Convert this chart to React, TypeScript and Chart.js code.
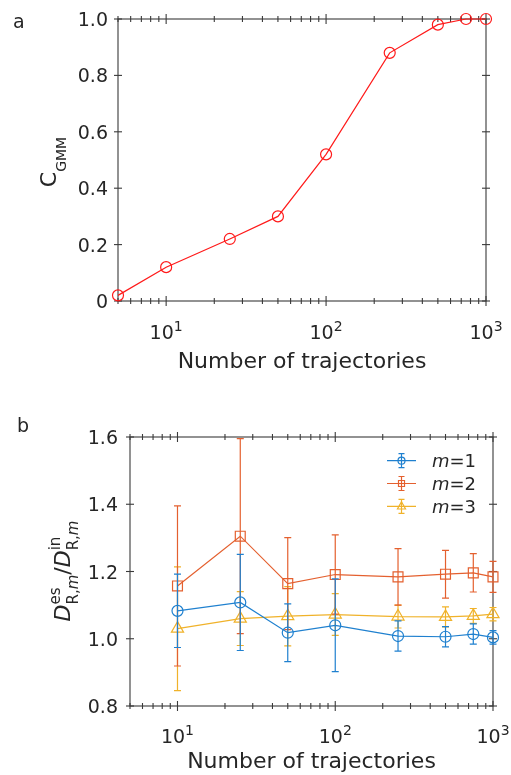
import { useEffect, useRef } from "react";
import { Chart, registerables } from "chart.js";

Chart.register(...registerables);

const FONT = '"DejaVu Sans", Verdana, sans-serif';
const INK = "#262626";
const AXIS = "#3a3a3a";

// ---- panel a: clustering accuracy vs. number of trajectories ----
const trajectoriesA = [5, 10, 25, 50, 100, 250, 500, 750, 1000];
const cGmm = [0.02, 0.12, 0.22, 0.3, 0.52, 0.88, 0.98, 1.0, 1.0];

// ---- panel b: estimated / input diffusion ratio for each state m ----
const trajectoriesB = [10, 25, 50, 100, 250, 500, 750, 1000];
const ratioM1 = [1.083, 1.108, 1.018, 1.04, 1.008, 1.006, 1.014, 1.004];
const errM1 = [0.109, 0.143, 0.086, 0.138, 0.045, 0.03, 0.03, 0.02];
const ratioM2 = [1.157, 1.305, 1.164, 1.191, 1.184, 1.192, 1.196, 1.184];
const errM2 = [0.238, 0.29, 0.137, 0.118, 0.084, 0.071, 0.057, 0.046];
const ratioM3 = [1.03, 1.06, 1.067, 1.072, 1.066, 1.065, 1.068, 1.073];
const errM3 = [0.184, 0.08, 0.088, 0.062, 0.034, 0.03, 0.022, 0.02];
const stateLabels = ["1", "2", "3"];

// ---- axes ----
const xRange = [5, 1000];
const xMajorTicks = [10, 100, 1000];
const xTickExponents = ["1", "2", "3"];
const yTicksA = [0, 0.2, 0.4, 0.6, 0.8, 1.0];
const yTickLabelsA = ["0", "0.2", "0.4", "0.6", "0.8", "1.0"];
const yTicksB = [0.8, 1.0, 1.2, 1.4, 1.6];
const yTickLabelsB = ["0.8", "1.0", "1.2", "1.4", "1.6"];
const xTitle = "Number of trajectories";

const RED = "#ff1a1a";
const BLUE = "#1f80cf";
const ORANGE = "#e4602f";
const YELLOW = "#f0b22a";

type Run = { t: string; size: number; dy?: number; italic?: boolean };
type Seg = Run | { stack: [Run[], Run[]] };

const fontOf = (r: Run) => `${r.italic ? "italic " : ""}${r.size}px ${FONT}`;

function runsWidth(ctx: CanvasRenderingContext2D, runs: Run[]) {
  let w = 0;
  for (const r of runs) {
    ctx.font = fontOf(r);
    w += ctx.measureText(r.t).width;
  }
  return w;
}

function segWidth(ctx: CanvasRenderingContext2D, s: Seg) {
  if ("stack" in s) return Math.max(runsWidth(ctx, s.stack[0]), runsWidth(ctx, s.stack[1]));
  return runsWidth(ctx, [s]);
}

function drawRuns(ctx: CanvasRenderingContext2D, runs: Run[], x: number) {
  for (const r of runs) {
    ctx.font = fontOf(r);
    ctx.fillText(r.t, x, r.dy || 0);
    x += ctx.measureText(r.t).width;
  }
  return x;
}

function drawRich(
  ctx: CanvasRenderingContext2D,
  segs: Seg[],
  x: number,
  y: number,
  align: "left" | "center" | "right",
  angle = 0
) {
  let total = 0;
  for (const s of segs) total += segWidth(ctx, s);
  ctx.save();
  ctx.translate(x, y);
  ctx.rotate(angle);
  ctx.fillStyle = INK;
  ctx.textAlign = "left";
  ctx.textBaseline = "alphabetic";
  let cx = align === "center" ? -total / 2 : align === "right" ? -total : 0;
  for (const s of segs) {
    if ("stack" in s) {
      drawRuns(ctx, s.stack[0], cx);
      drawRuns(ctx, s.stack[1], cx);
      cx += segWidth(ctx, s);
    } else {
      cx = drawRuns(ctx, [s], cx);
    }
  }
  ctx.restore();
}

type FrameCfg = {
  yTicks: number[];
  yLabels: string[];
  yLabelGap: number;
  xLabelBaseline: number;
  xTitleBaseline: number;
  yTitle: Seg[];
  yTitleX: number;
  yTitleY: number;
  letter: string;
  letterX: number;
  letterY: number;
};

function framePlugin(cfg: FrameCfg) {
  return {
    id: "frame",
    beforeDatasetsDraw(chart: any) {
      const { ctx, chartArea: a, scales } = chart;
      const xs = scales.x;
      const ys = scales.y;
      ctx.save();
      ctx.strokeStyle = AXIS;
      ctx.lineWidth = 1.1;
      ctx.strokeRect(a.left, a.top, a.right - a.left, a.bottom - a.top);

      const seg = (x1: number, y1: number, x2: number, y2: number) => {
        ctx.beginPath();
        ctx.moveTo(x1, y1);
        ctx.lineTo(x2, y2);
        ctx.stroke();
      };

      // log-axis major and minor ticks, top and bottom
      const lo = xs.min;
      const hi = xs.max;
      for (let e = Math.floor(Math.log10(lo)); e <= Math.ceil(Math.log10(hi)); e++) {
        for (let d = 1; d <= 9; d++) {
          const v = d * Math.pow(10, e);
          if (v < lo * 0.999 || v > hi * 1.001) continue;
          const px = xs.getPixelForValue(v);
          const len = d === 1 ? 5 : 3;
          seg(px, a.bottom - len, px, a.bottom + len);
          seg(px, a.top - len, px, a.top + len);
        }
      }
      // y ticks, left and right
      for (const v of cfg.yTicks) {
        const py = ys.getPixelForValue(v);
        seg(a.left - 4, py, a.left + 4, py);
        seg(a.right - 4, py, a.right + 4, py);
      }
      ctx.restore();

      // tick labels
      cfg.yTicks.forEach((v, i) => {
        const py = ys.getPixelForValue(v);
        drawRich(ctx, [{ t: cfg.yLabels[i], size: 19 }], a.left - cfg.yLabelGap, py + 7, "right");
      });
      xMajorTicks.forEach((v, i) => {
        const px = xs.getPixelForValue(v);
        drawRich(
          ctx,
          [
            { t: "10", size: 19 },
            { t: xTickExponents[i], size: 14, dy: -8 },
          ],
          px,
          a.bottom + cfg.xLabelBaseline,
          "center"
        );
      });

      // axis titles and panel letter
      drawRich(ctx, [{ t: xTitle, size: 22 }], (a.left + a.right) / 2, cfg.xTitleBaseline, "center");
      drawRich(ctx, cfg.yTitle, cfg.yTitleX, cfg.yTitleY, "center", -Math.PI / 2);
      drawRich(ctx, [{ t: cfg.letter, size: 19 }], cfg.letterX, cfg.letterY, "left");
    },
  };
}

function drawMarker(ctx: CanvasRenderingContext2D, style: string, x: number, y: number, r: number) {
  ctx.beginPath();
  if (style === "circle") {
    ctx.arc(x, y, r, 0, Math.PI * 2);
  } else if (style === "rect") {
    ctx.rect(x - r, y - r, 2 * r, 2 * r);
  } else {
    ctx.moveTo(x, y - r);
    ctx.lineTo(x + r * 0.9, y + r * 0.6);
    ctx.lineTo(x - r * 0.9, y + r * 0.6);
    ctx.closePath();
  }
  ctx.stroke();
}

// vertical error bars with caps, drawn right after each series
const errorBarPlugin = {
  id: "errorBars",
  afterDatasetDraw(chart: any, args: any) {
    const ds = chart.data.datasets[args.index];
    if (!ds.errors) return;
    const { ctx, scales } = chart;
    const ys = scales.y;
    ctx.save();
    ctx.strokeStyle = ds.borderColor;
    ctx.lineWidth = 1.2;
    args.meta.data.forEach((pt: any, i: number) => {
      const v = ds.data[i].y;
      const e = ds.errors[i];
      const y1 = ys.getPixelForValue(v - e);
      const y2 = ys.getPixelForValue(v + e);
      ctx.beginPath();
      ctx.moveTo(pt.x, y1);
      ctx.lineTo(pt.x, y2);
      ctx.moveTo(pt.x - 3.5, y1);
      ctx.lineTo(pt.x + 3.5, y1);
      ctx.moveTo(pt.x - 3.5, y2);
      ctx.lineTo(pt.x + 3.5, y2);
      ctx.stroke();
    });
    ctx.restore();
  },
};

const legendSeries = [
  { color: BLUE, style: "circle" },
  { color: ORANGE, style: "rect" },
  { color: YELLOW, style: "triangle" },
];

const legendPlugin = {
  id: "stateLegend",
  afterDraw(chart: any) {
    const { ctx } = chart;
    const rows = [75.7, 98.5, 121.3];
    legendSeries.forEach((s, i) => {
      const y = rows[i];
      ctx.save();
      ctx.strokeStyle = s.color;
      ctx.lineWidth = 1.2;
      ctx.beginPath();
      ctx.moveTo(387, y);
      ctx.lineTo(416, y);
      ctx.moveTo(401.5, y - 7);
      ctx.lineTo(401.5, y + 7);
      ctx.moveTo(398.5, y - 7);
      ctx.lineTo(404.5, y - 7);
      ctx.moveTo(398.5, y + 7);
      ctx.lineTo(404.5, y + 7);
      ctx.stroke();
      drawMarker(ctx, s.style, 401.5, y, s.style === "rect" ? 3 : s.style === "triangle" ? 4.5 : 3.5);
      ctx.restore();
      drawRich(
        ctx,
        [
          { t: "m", size: 18, italic: true },
          { t: "=" + stateLabels[i], size: 18 },
        ],
        432,
        y + 6.5,
        "left"
      );
    });
  },
};

const pts = (xs: number[], ys: number[]) => xs.map((x, i) => ({ x, y: ys[i] }));

function configA(): any {
  return {
    type: "line",
    data: {
      datasets: [
        {
          data: pts(trajectoriesA, cGmm),
          borderColor: RED,
          borderWidth: 1.2,
          pointStyle: "circle",
          pointRadius: 5.5,
          pointBorderWidth: 1.2,
          pointBorderColor: RED,
          pointBackgroundColor: "rgba(0,0,0,0)",
          tension: 0,
          clip: false,
        },
      ],
    },
    options: {
      responsive: false,
      animation: false,
      events: [],
      layout: { padding: { left: 118, right: 25, top: 19, bottom: 84 } },
      plugins: { legend: { display: false }, tooltip: { enabled: false } },
      scales: {
        x: { type: "logarithmic", min: xRange[0], max: xRange[1], display: false },
        y: { type: "linear", min: 0, max: 1, display: false },
      },
    },
    plugins: [
      framePlugin({
        yTicks: yTicksA,
        yLabels: yTickLabelsA,
        yLabelGap: 10,
        xLabelBaseline: 38,
        xTitleBaseline: 368,
        yTitle: [
          { t: "C", size: 22 },
          { t: "GMM", size: 14, dy: 10 },
        ],
        yTitleX: 56,
        yTitleY: 162,
        letter: "a",
        letterX: 13,
        letterY: 28,
      }),
    ],
  };
}

function seriesB(values: number[], errors: number[], color: string, style: string, radius: number) {
  return {
    data: pts(trajectoriesB, values),
    errors,
    borderColor: color,
    borderWidth: 1.2,
    pointStyle: style,
    pointRadius: radius,
    pointBorderWidth: 1.2,
    pointBorderColor: color,
    pointBackgroundColor: "rgba(0,0,0,0)",
    tension: 0,
    clip: false,
  };
}

const subRm: Run[] = [
  { t: "R,", size: 15, dy: 8 },
  { t: "m", size: 15, dy: 8, italic: true },
];

function configB(): any {
  return {
    type: "line",
    data: {
      datasets: [
        seriesB(ratioM1, errM1, BLUE, "circle", 5.5),
        seriesB(ratioM2, errM2, ORANGE, "rect", 7),
        seriesB(ratioM3, errM3, YELLOW, "triangle", 7),
      ],
    },
    options: {
      responsive: false,
      animation: false,
      events: [],
      layout: { padding: { left: 130, right: 18, top: 52, bottom: 69 } },
      plugins: { legend: { display: false }, tooltip: { enabled: false } },
      scales: {
        x: { type: "logarithmic", min: xRange[0], max: xRange[1], display: false },
        y: { type: "linear", min: 0.8, max: 1.6, display: false },
      },
    },
    plugins: [
      framePlugin({
        yTicks: yTicksB,
        yLabels: yTickLabelsB,
        yLabelGap: 12,
        xLabelBaseline: 37,
        xTitleBaseline: 383,
        yTitle: [
          { t: "D", size: 22, italic: true },
          { stack: [[{ t: "es", size: 15, dy: -10 }], subRm] },
          { t: "/", size: 22 },
          { t: "D", size: 22, italic: true },
          { stack: [[{ t: "in", size: 15, dy: -10 }], subRm] },
        ],
        yTitleX: 70,
        yTitleY: 186,
        letter: "b",
        letterX: 17,
        letterY: 47,
      }),
      errorBarPlugin,
      legendPlugin,
    ],
  };
}

function Panel({ make, top, height }: { make: () => any; top: number; height: number }) {
  const ref = useRef<HTMLCanvasElement>(null);
  useEffect(() => {
    const chart = new Chart(ref.current as HTMLCanvasElement, make());
    return () => chart.destroy();
  }, [make]);
  return (
    <canvas
      ref={ref}
      width={511}
      height={height}
      style={{ position: "absolute", left: 0, top, width: 511, height, display: "block" }}
    />
  );
}

export default function App() {
  return (
    <div style={{ position: "absolute", left: 0, top: 0, width: 511, height: 775, background: "#fff" }}>
      <Panel make={configA} top={0} height={385} />
      <Panel make={configB} top={385} height={390} />
    </div>
  );
}
